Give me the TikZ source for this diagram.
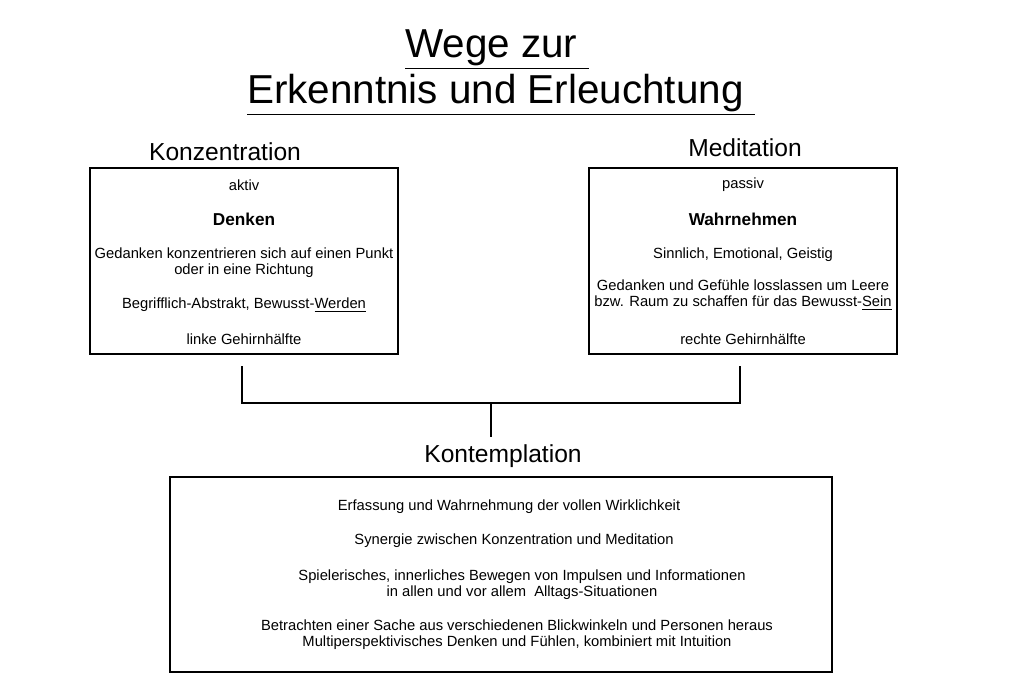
\documentclass[tikz,border=0pt]{standalone}
\usepackage{fontspec}
\setmainfont{Liberation Sans}
\usetikzlibrary{positioning}

\begin{document}
\begin{tikzpicture}[x=0.02cm,y=-0.02cm,semithick]
  \tikzstyle{kasten}=[rectangle,draw=black,thick,inner sep=0pt]
  \tikzstyle{zeile}=[font=\fontsize{8.4}{9}\selectfont,align=center,inner sep=0pt]
  \tikzstyle{titel}=[font=\fontsize{14}{16}\selectfont,inner sep=0pt]

  \useasboundingbox (0,0) rectangle (1024,690);

  % Ueberschrift
  \node[font=\fontsize{23}{25}\selectfont] (t1) at (497,50) {\underline{Wege zur\ }};
  \node[font=\fontsize{23}{25}\selectfont] (t2) at (501,95) {\underline{Erkenntnis und Erleuchtung\ }};

  % Kaesten
  \node[kasten,minimum width=308*0.02cm,minimum height=186*0.02cm] (links)  at (244,261) {};
  \node[kasten,minimum width=308*0.02cm,minimum height=186*0.02cm] (rechts) at (743,261) {};
  \node[kasten,minimum width=662*0.02cm,minimum height=195*0.02cm] (unten)  at (501,574.5) {};

  \node[titel] (konz) at (225,152) {Konzentration};
  \node[titel] (medi) at (745,148) {Meditation};
  \node[titel] (kont) at (503,456) {Kontemplation};

  % links
  \node[zeile] (l1) at (244,185) {aktiv};
  \node[zeile,font=\fontsize{9.8}{11}\selectfont\bfseries] (l2) at (244,219) {Denken};
  \node[zeile] (l3) at (244,263) {Gedanken konzentrieren sich auf einen Punkt\\oder in eine Richtung};
  \node[zeile] (l4) at (244,305) {Begrifflich-Abstrakt, Bewusst-\underline{Werden}};
  \node[zeile] (l5) at (244,339) {linke Gehirnhälfte};

  % rechts
  \node[zeile] (r1) at (743,185) {passiv};
  \node[zeile,font=\fontsize{9.8}{11}\selectfont\bfseries] (r2) at (743,219) {Wahrnehmen};
  \node[zeile] (r3) at (743,255) {Sinnlich, Emotional, Geistig};
  \node[zeile] (r4) at (743,295) {Gedanken und Gefühle losslassen um Leere\\bzw. Raum zu schaffen für das Bewusst-\underline{Sein}};
  \node[zeile] (r5) at (743,339) {rechte Gehirnhälfte};

  % unten
  \node[zeile] (u1) at (509,507) {Erfassung und Wahrnehmung der vollen Wirklichkeit};
  \node[zeile] (u2) at (514,541) {Synergie zwischen Konzentration und Meditation};
  \node[zeile] (u3) at (522,584.5) {Spielerisches, innerliches Bewegen von Impulsen und Informationen\\in allen und vor allem\ \ Alltags-Situationen};
  \node[zeile] (u4) at (517,635) {Betrachten einer Sache aus verschiedenen Blickwinkeln und Personen heraus\\Multiperspektivisches Denken und Fühlen, kombiniert mit Intuition};

  % Verbindung
  \coordinate (a) at (242,366);
  \coordinate (b) at (740,366);
  \coordinate (m) at (491,403);
  \coordinate (k) at (491,437);
  \draw[thick] (a) |- (m) -| (b);
  \draw[thick] (m) -- (k);
\end{tikzpicture}
\end{document}
